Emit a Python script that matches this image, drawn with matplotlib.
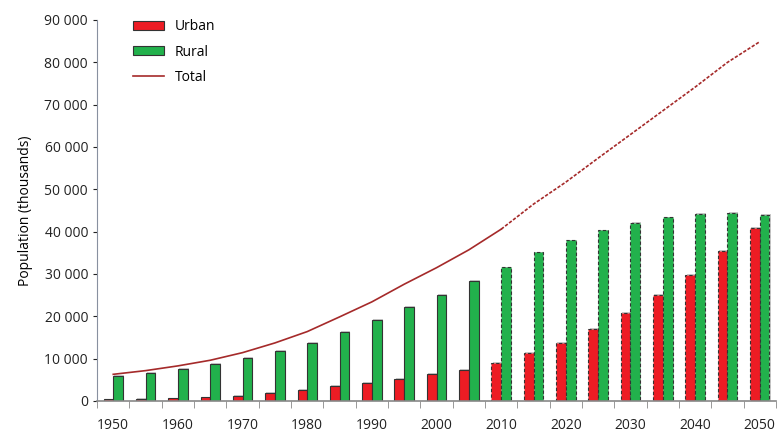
import numpy as np
import matplotlib.pyplot as plt

years = list(range(1950, 2051, 5))
urban = [400, 550, 650, 870, 1180, 1890, 2680, 3550, 4260, 5280, 6380, 7330,
         8980, 11350, 13710, 17020, 20800, 25130, 29860, 35460, 40900]
rural = [5900, 6620, 7640, 8750, 10240, 11820, 13710, 16310, 19150, 22300, 25100, 28370,
         31600, 35150, 37990, 40350, 42150, 43420, 44280, 44520, 43970]
total = [6300, 7170, 8290, 9620, 11420, 13710, 16390, 19860, 23410, 27580, 31480, 35700,
         40580, 46500, 51700, 57370, 62950, 68550, 74140, 79980, 84870]
tick_years = list(range(1950, 2051, 10))

plt.rcParams['font.family'] = ['Open Sans', 'DejaVu Sans']

fig = plt.figure(figsize=(7.83, 4.32), dpi=100)
ax = fig.add_axes([0.124, 0.0718, 0.867, 0.882])

x = np.arange(len(years))
w = 0.3
n_obs = years.index(2010)  # projections from 2010 on

red = '#ED1C24'
green = '#22B14C'
edge = '#333333'

for i in range(len(years)):
    ls = '-' if i < n_obs else (0, (3, 2))
    # soft shadow
    ax.bar(x[i] - w / 2 + 0.035, urban[i] + 150, w, color='#c8c8c8', zorder=1)
    ax.bar(x[i] + w / 2 + 0.035, rural[i] + 150, w, color='#c8c8c8', zorder=1)
    ax.bar(x[i] - w / 2, urban[i], w, color=red, edgecolor=edge, linewidth=0.8,
           linestyle=ls, zorder=2, label='Urban' if i == 0 else None)
    ax.bar(x[i] + w / 2, rural[i], w, color=green, edgecolor=edge, linewidth=0.8,
           linestyle=ls, zorder=2, label='Rural' if i == 0 else None)

ax.plot(x[:n_obs + 1], total[:n_obs + 1], color='#A52A2A', lw=1.2, zorder=3, label='Total')
ax.plot(x[n_obs:], total[n_obs:], color='#A52A2A', lw=1.2, ls=(0, (2, 1)), zorder=3)

ax.set_xlim(-0.5, len(years) - 0.5)
ax.set_ylim(0, 90000)
ax.set_yticks(range(0, 90001, 10000))
ax.set_yticklabels([f'{v:,}'.replace(',', ' ') for v in range(0, 90001, 10000)])
ax.set_xticks([years.index(y) for y in tick_years])
ax.set_xticklabels([str(y) for y in tick_years])
ax.set_xticks(np.arange(-0.5, len(years), 1), minor=True)
ax.tick_params(axis='x', which='major', length=0, pad=12)
ax.tick_params(axis='x', which='minor', length=5, color='#888888')
ax.tick_params(axis='y', length=3, color='#888888')
ax.tick_params(labelsize=10, colors='#222222')

ax.set_ylabel('Population (thousands)', fontsize=10, labelpad=8)

for s in ['top', 'right']:
    ax.spines[s].set_visible(False)
ax.spines['left'].set_color('#8890a0')
ax.spines['bottom'].set_color('#888888')
ax.spines['bottom'].set_linewidth(1.2)

h, l = ax.get_legend_handles_labels()
order = [l.index('Urban'), l.index('Rural'), l.index('Total')]
ax.legend([h[k] for k in order], [l[k] for k in order],
          loc='upper left', bbox_to_anchor=(0.035, 1.035), frameon=False, fontsize=10,
          handlelength=2.2, handleheight=0.6, labelspacing=0.75)

fig.savefig('out.png', dpi=100)
